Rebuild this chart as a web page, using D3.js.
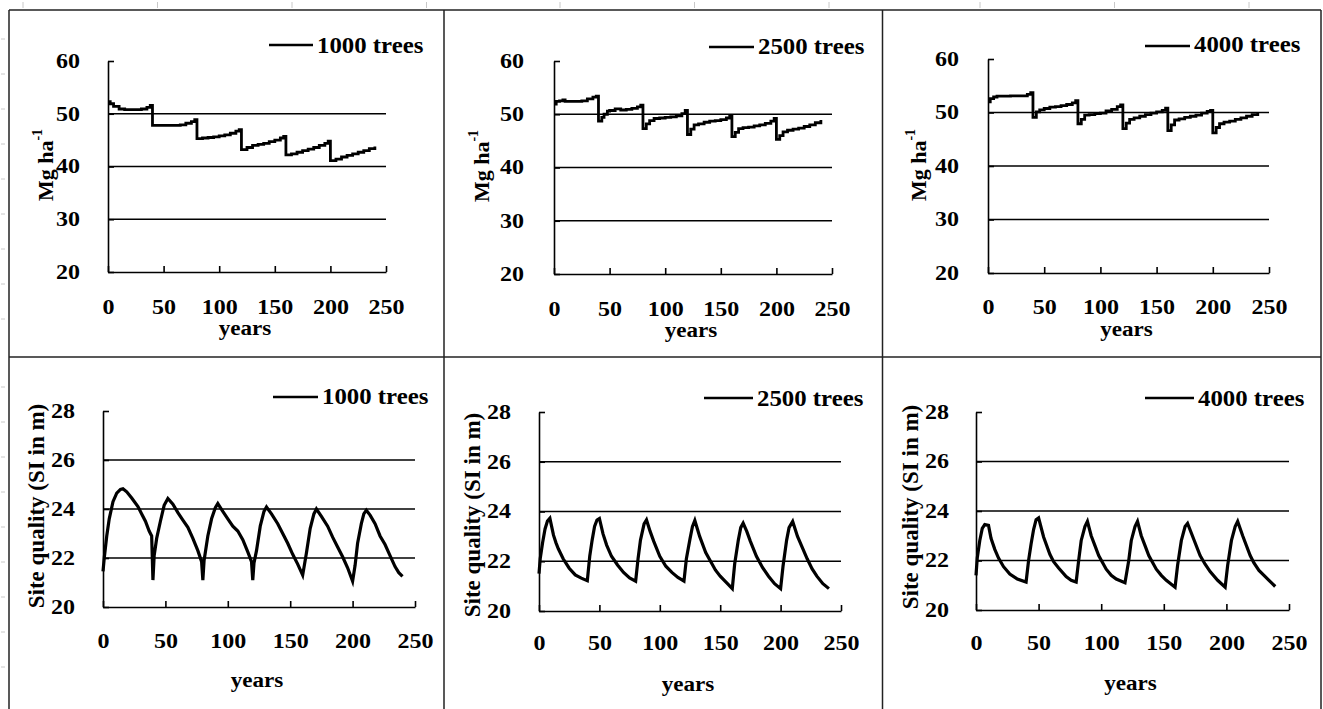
<!DOCTYPE html>
<html>
<head>
<meta charset="utf-8">
<script src="https://cdn.jsdelivr.net/npm/d3@7"></script>
<style>
  html, body { margin: 0; padding: 0; background: #fff; }
  svg { display: block; }
</style>
</head>
<body>
<div id="chart"></div>
<script>
// Ticks y etiquetas
const yearTicks = [0, 50, 100, 150, 200, 250];
const bioTicks = [20, 30, 40, 50, 60];
const bioGrid = [30, 40, 50];
const siTicks = [20, 22, 24, 26, 28];
const siGrid = [22, 24, 26];
const standLabels = ['1000 trees', '2500 trees', '4000 trees'];

// Biomasa (Mg ha-1) por año
const bio1000 = [[0,52.3],[2,51.9],[5,51.4],[10,50.9],[15,50.8],[20,50.8],[25,50.8],[30,50.9],[35,51.2],[38,51.6],
  [40,47.8],[45,47.8],[50,47.8],[55,47.8],[60,47.8],[65,47.9],[70,48.2],[75,48.5],[78,48.9],
  [80,45.3],[85,45.4],[90,45.5],[95,45.6],[100,45.8],[105,46.0],[110,46.3],[115,46.7],[118,47.0],
  [120,43.2],[125,43.6],[130,44.0],[135,44.2],[140,44.4],[145,44.7],[150,45.0],[155,45.4],[158,45.7],
  [160,42.2],[165,42.4],[170,42.7],[175,43.0],[180,43.3],[185,43.6],[190,44.0],[195,44.4],[198,44.8],
  [200,41.1],[205,41.4],[210,41.8],[215,42.1],[220,42.4],[225,42.7],[230,43.0],[235,43.4],[240,43.8]];
const bio2500 = [[0,51.9],[2,52.4],[5,52.5],[8,52.7],[10,52.4],[15,52.4],[20,52.4],[25,52.5],[30,52.9],[35,53.2],[38,53.4],
  [40,48.7],[43,49.4],[45,50.0],[48,50.6],[50,50.7],[55,51.0],[60,50.8],[65,50.9],[70,51.1],[75,51.4],[78,51.7],
  [80,47.3],[83,48.2],[86,48.8],[90,49.2],[95,49.3],[100,49.4],[105,49.5],[110,49.7],[115,50.1],[118,50.7],
  [120,46.2],[123,47.2],[126,48.0],[130,48.2],[135,48.5],[140,48.7],[145,48.8],[150,49.0],[155,49.3],[158,49.7],
  [160,45.8],[163,46.6],[166,47.3],[170,47.5],[175,47.6],[180,47.8],[185,48.0],[190,48.3],[195,48.7],[198,49.2],
  [200,45.3],[203,46.0],[206,46.7],[210,47.0],[215,47.2],[220,47.4],[225,47.7],[230,48.0],[235,48.4],[240,48.9]];
const bio4000 = [[0,52.0],[2,52.6],[5,52.9],[8,53.05],[15,53.05],[20,53.1],[25,53.1],[30,53.1],[35,53.4],[38,53.7],
  [40,49.1],[43,50.1],[46,50.5],[50,50.75],[55,51.0],[60,51.1],[65,51.3],[70,51.5],[75,51.8],[78,52.2],
  [80,47.9],[83,48.7],[86,49.5],[90,49.6],[95,49.8],[100,49.9],[105,50.3],[110,50.6],[115,51.1],[118,51.4],
  [120,47.0],[123,48.0],[126,48.7],[130,49.0],[135,49.3],[140,49.6],[145,49.9],[150,50.1],[155,50.4],[158,50.8],
  [160,46.6],[163,47.7],[166,48.6],[170,48.8],[175,49.1],[180,49.3],[185,49.5],[190,49.9],[195,50.2],[198,50.4],
  [200,46.2],[203,47.2],[206,47.9],[210,48.2],[215,48.4],[220,48.7],[225,49.0],[230,49.3],[235,49.6],[240,49.9]];

// Calidad de estación (SI en m) por año
const si1000 = [[0,21.45],[1,22.0],[3,22.9],[5,23.6],[8,24.3],[11,24.65],[14,24.8],[16,24.83],[19,24.7],[23,24.45],[28,24.1],
  [31,23.8],[34,23.5],[37,23.1],[39,22.9],[40,21.1],[41,22.1],[43,22.8],[46,23.5],[49,24.15],[52,24.43],[56,24.2],
  [60,23.85],[64,23.55],[68,23.25],[72,22.8],[76,22.3],[79,21.85],[80,21.1],[81,21.9],[84,22.9],[87,23.6],[90,24.05],
  [92,24.22],[96,23.9],[100,23.6],[104,23.3],[108,23.1],[112,22.75],[116,22.25],[119,21.85],[120,21.1],[121,21.8],
  [123,22.3],[126,23.3],[129,23.9],[131,24.08],[135,23.8],[140,23.4],[144,23.0],[148,22.6],[152,22.15],[156,21.75],
  [160,21.3],[163,22.2],[166,23.2],[169,23.8],[171,24.0],[175,23.7],[180,23.3],[184,22.85],[188,22.45],[192,22.05],
  [196,21.6],[200,21.05],[202,21.7],[204,22.6],[207,23.4],[209,23.8],[211,23.95],[214,23.75],[218,23.4],[222,22.9],
  [226,22.55],[230,22.1],[234,21.65],[237,21.4],[240,21.25]];
const si2500 = [[0,21.5],[1,22.1],[3,22.75],[5,23.3],[7,23.62],[9,23.73],[10,23.5],[12,23.05],[14,22.75],[16,22.5],[20,22.1],
  [25,21.72],[30,21.45],[35,21.32],[40,21.22],[42,22.2],[44,22.85],[46,23.4],[48,23.66],[50,23.72],[53,23.1],[56,22.65],
  [60,22.2],[65,21.85],[70,21.55],[75,21.33],[80,21.2],[82,22.1],[84,22.85],[87,23.5],[89,23.66],[92,23.2],[95,22.8],
  [100,22.2],[105,21.8],[110,21.55],[115,21.35],[120,21.2],[122,22.1],[125,22.9],[127,23.39],[129,23.64],[133,23.0],
  [138,22.35],[142,22.0],[146,21.65],[150,21.4],[155,21.15],[160,20.9],[162,21.9],[165,22.85],[167,23.35],[169,23.53],
  [172,23.2],[175,22.8],[180,22.2],[185,21.75],[190,21.4],[195,21.1],[200,20.9],[202,21.8],[205,22.85],[207,23.35],
  [210,23.6],[214,23.0],[218,22.55],[222,22.1],[226,21.7],[230,21.4],[235,21.1],[240,20.9]];
const si4000 = [[0,21.4],[1,22.1],[3,22.8],[5,23.3],[7,23.45],[10,23.42],[12,22.9],[15,22.45],[18,22.1],[22,21.75],[27,21.45],
  [33,21.25],[40,21.13],[42,22.0],[44,22.67],[46,23.25],[48,23.65],[50,23.72],[54,22.95],[59,22.25],[62,21.95],[66,21.7],
  [72,21.35],[76,21.2],[80,21.13],[82,22.0],[84,22.8],[87,23.37],[89,23.58],[92,23.0],[95,22.6],[98,22.2],[104,21.65],
  [108,21.4],[112,21.25],[119,21.1],[122,22.0],[124,22.8],[127,23.37],[129,23.58],[132,23.0],[135,22.6],[138,22.2],
  [144,21.65],[148,21.4],[152,21.2],[159,20.92],[161,21.8],[164,22.8],[167,23.37],[169,23.5],[174,22.85],[179,22.2],
  [183,21.85],[187,21.55],[193,21.2],[199,20.92],[201,21.8],[204,22.8],[207,23.37],[209,23.58],[213,23.0],[219,22.2],
  [222,21.9],[226,21.6],[230,21.4],[234,21.2],[239,20.95]];

// Geometría de cada panel (x0/x1 eje X, yT/yB eje Y, leyenda, título Y)
const panels = [
  { data: bio1000, name: standLabels[0], kind: 'bio', x0: 108, x1: 386, yT: 61, yB: 272, gap: 28, pad: 28, leg: [269, 313, 45, 53], tt: [45, 165] },
  { data: bio2500, name: standLabels[1], kind: 'bio', x0: 554, x1: 832, yT: 61, yB: 274, gap: 30, pad: 28, leg: [709, 754, 47, 54], tt: [481, 166] },
  { data: bio4000, name: standLabels[2], kind: 'bio', x0: 988, x1: 1269, yT: 59, yB: 273, gap: 29, pad: 27, leg: [1145, 1190, 46, 52], tt: [918, 165] },
  { data: si1000, name: standLabels[0], kind: 'si', x0: 103, x1: 415, yT: 411, yB: 607, gap: 28, pad: 27, leg: [273, 318, 397, 404], tt: [36, 506] },
  { data: si2500, name: standLabels[1], kind: 'si', x0: 539, x1: 841, yT: 412, yB: 611, gap: 28, pad: 25, leg: [704, 753, 398, 406], tt: [472, 515] },
  { data: si4000, name: standLabels[2], kind: 'si', x0: 976, x1: 1289, yT: 412, yB: 610, gap: 27, pad: 26, leg: [1145, 1194, 398, 406], tt: [910, 507] }
];

const FONT = "'Liberation Serif', Tinos, 'Times New Roman', Times, 'DejaVu Serif', serif";
const SX = 1.2; // las etiquetas del original están algo estiradas en horizontal

const svg = d3.select('#chart').append('svg')
  .attr('width', 1323)
  .attr('height', 709)
  .style('font-family', FONT)
  .style('font-weight', 'bold');

// Marcas tenues de regla en los bordes
const ruler = svg.append('g').attr('stroke', '#c8c8c8').attr('stroke-width', 1);
[[23, 440], [560, 880], [980, 1320]].forEach(function(r) {
  d3.range(r[0], r[1], 134.5).forEach(function(x) {
    ruler.append('line').attr('x1', x).attr('x2', x).attr('y1', 2).attr('y2', 8);
  });
});
[[39, 330], [387, 700]].forEach(function(r) {
  d3.range(r[0], r[1], 35).forEach(function(y) {
    ruler.append('line').attr('x1', 1).attr('x2', 5).attr('y1', y).attr('y2', y);
  });
});

// Rejilla de celdas
const frame = svg.append('g').attr('stroke', '#222').attr('stroke-width', 1.5);
[9, 444, 882.5, 1321].forEach(function(x) {
  frame.append('line').attr('x1', x).attr('x2', x).attr('y1', 10).attr('y2', 709);
});
[10, 357].forEach(function(y) {
  frame.append('line').attr('x1', 9).attr('x2', 1321).attr('y1', y).attr('y2', y);
});

panels.forEach(function(p) {
  const isBio = p.kind === 'bio';
  const g = svg.append('g');

  const x = d3.scaleLinear().domain([0, 250]).range([p.x0, p.x1]);
  const y = d3.scaleLinear().domain(isBio ? [20, 60] : [20, 28]).range([p.yB, p.yT]);

  // Líneas de rejilla horizontales
  g.append('g').selectAll('line')
    .data(isBio ? bioGrid : siGrid)
    .enter().append('line')
      .attr('x1', p.x0).attr('x2', p.x1)
      .attr('y1', function(d) { return y(d); })
      .attr('y2', function(d) { return y(d); })
      .attr('stroke', '#000').attr('stroke-width', 1.5);

  // Eje X
  const gx = g.append('g')
    .attr('transform', 'translate(0,' + p.yB + ')')
    .call(d3.axisBottom(x).tickValues(yearTicks).tickSizeInner(-6).tickSizeOuter(0).tickPadding(p.pad));
  // Eje Y
  const gy = g.append('g')
    .attr('transform', 'translate(' + p.x0 + ',0)')
    .call(d3.axisLeft(y).tickValues(isBio ? bioTicks : siTicks).tickSizeInner(-6).tickSizeOuter(0).tickPadding(p.gap));

  [gx, gy].forEach(function(ax) {
    ax.attr('font-family', FONT).attr('font-size', 20);
    ax.selectAll('path, line').attr('stroke', '#000').attr('stroke-width', 1.6);
    ax.selectAll('text').attr('fill', '#000').style('font-family', FONT).style('font-weight', 'bold');
  });
  gx.selectAll('text').attr('transform', 'scale(' + SX + ',1)');
  gy.selectAll('text').attr('x', -p.gap / SX).attr('transform', 'scale(' + SX + ',1)');

  // Serie
  const line = d3.line()
    .x(function(d) { return x(d[0]); })
    .y(function(d) { return y(d[1]); })
    .curve(isBio ? d3.curveStepAfter : d3.curveLinear);

  g.append('path')
    .datum(p.data)
    .attr('d', line)
    .attr('fill', 'none')
    .attr('stroke', '#000')
    .attr('stroke-width', isBio ? 2.8 : 3.2)
    .attr('stroke-linejoin', 'miter');

  // Título eje X
  g.append('text')
    .attr('transform', 'translate(' + ((p.x0 + p.x1) / 2 - 2) + ',' + (p.yB + (isBio ? 63 : 80)) + ') scale(1.1,1)')
    .attr('text-anchor', 'middle')
    .attr('font-size', 21)
    .text('years');

  // Título eje Y
  const ty = g.append('text')
    .attr('transform', 'translate(' + p.tt[0] + ',' + p.tt[1] + ') rotate(-90)')
    .attr('text-anchor', 'middle')
    .attr('dy', '0.35em')
    .attr('font-size', isBio ? 22 : 23);
  if (isBio) {
    ty.append('tspan').text('Mg ha');
    ty.append('tspan').attr('font-size', 14).attr('dy', '-0.75em').text('-1');
  } else {
    ty.text('Site quality (SI in m)');
  }

  // Leyenda
  g.append('line')
    .attr('x1', p.leg[0]).attr('x2', p.leg[1])
    .attr('y1', p.leg[2]).attr('y2', p.leg[2])
    .attr('stroke', '#000').attr('stroke-width', 2.5);
  g.append('text')
    .attr('transform', 'translate(' + (p.leg[1] + 4) + ',' + p.leg[3] + ') scale(1.08,1)')
    .attr('font-size', 23)
    .text(p.name);
});
</script>
</body>
</html>
